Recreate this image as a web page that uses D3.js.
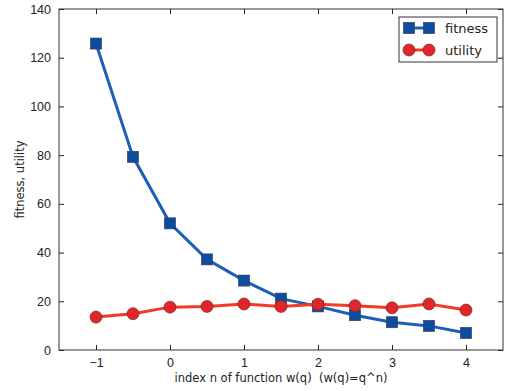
<!DOCTYPE html>
<html>
<head>
<meta charset="utf-8">
<script src="https://cdn.jsdelivr.net/npm/d3@7"></script>
<style>
  body { margin: 0; background: #fff; }
  svg { display: block; font-family: "DejaVu Sans", sans-serif; }
</style>
</head>
<body>
<div id="svg-container"></div>
<script>
// data
const xValues = [-1, -0.5, 0, 0.5, 1, 1.5, 2, 2.5, 3, 3.5, 4];
const fitness = [125.8, 79.3, 52, 37.2, 28.5, 21.1, 17.9, 14.3, 11.4, 9.9, 7.0];
const utility = [13.5, 14.9, 17.6, 17.9, 18.9, 17.9, 18.8, 18.2, 17.3, 18.9, 16.4];
const xTicks = [-1, 0, 1, 2, 3, 4];
const yTicks = [0, 20, 40, 60, 80, 100, 120, 140];

const width = 508;
const height = 391;
const margin = { top: 9, right: 5, bottom: 41, left: 59 };

const svg = d3
  .select("#svg-container")
  .append("svg")
  .attr("width", width)
  .attr("height", height);

const xScale = d3.scaleLinear().domain([-1.5, 4.5]).range([margin.left, width - margin.right]);
const yScale = d3.scaleLinear().domain([0, 140]).range([height - margin.bottom, margin.top]);

const fmt = (d) => (d < 0 ? "\u2212" + Math.abs(d) : d);

// inward ticks on all four sides
const axisStyle = (g) => {
  g.select(".domain").remove();
  g.selectAll("line").attr("stroke", "#222");
  g.selectAll("text").attr("fill", "#222").style("font-size", "12.5px");
};

svg
  .append("g")
  .attr("transform", `translate(0,${height - margin.bottom})`)
  .call(d3.axisBottom(xScale).tickValues(xTicks).tickFormat(fmt).tickSize(-5).tickPadding(8))
  .call(axisStyle);

svg
  .append("g")
  .attr("transform", `translate(0,${margin.top})`)
  .call(d3.axisTop(xScale).tickValues(xTicks).tickFormat("").tickSize(-5))
  .call(axisStyle);

svg
  .append("g")
  .attr("transform", `translate(${margin.left},0)`)
  .call(d3.axisLeft(yScale).tickValues(yTicks).tickSize(-5).tickPadding(8))
  .call(axisStyle);

svg
  .append("g")
  .attr("transform", `translate(${width - margin.right},0)`)
  .call(d3.axisRight(yScale).tickValues(yTicks).tickFormat("").tickSize(-5))
  .call(axisStyle);

svg
  .append("rect")
  .attr("x", margin.left)
  .attr("y", margin.top)
  .attr("width", width - margin.left - margin.right)
  .attr("height", height - margin.top - margin.bottom)
  .attr("fill", "none")
  .attr("stroke", "#333")
  .attr("stroke-width", 1);

// axis labels
svg
  .append("text")
  .attr("x", (margin.left + width - margin.right) / 2)
  .attr("y", 382)
  .attr("text-anchor", "middle")
  .style("font-size", "11.5px")
  .style("white-space", "pre")
  .attr("fill", "#222")
  .text("index n of function w(q)  (w(q)=q^n)");

svg
  .append("text")
  .attr("transform", `translate(24,${(margin.top + height - margin.bottom) / 2}) rotate(-90)`)
  .attr("text-anchor", "middle")
  .style("font-size", "11.5px")
  .attr("fill", "#222")
  .text("fitness, utility");

const line = d3
  .line()
  .x((d, i) => xScale(xValues[i]))
  .y((d) => yScale(d));

const blueLine = "#1c5fb8";
const blueMark = "#0e4c9e";
const redLine = "#f23a26";
const redMark = "#e3242b";

svg
  .append("path")
  .datum(fitness)
  .attr("fill", "none")
  .attr("stroke", blueLine)
  .attr("stroke-width", 3)
  .attr("d", line);

svg
  .append("path")
  .datum(utility)
  .attr("fill", "none")
  .attr("stroke", redLine)
  .attr("stroke-width", 3)
  .attr("d", line);

const sq = 11;
svg
  .selectAll(".sq")
  .data(fitness)
  .enter()
  .append("rect")
  .attr("class", "sq")
  .attr("x", (d, i) => xScale(xValues[i]) - sq / 2)
  .attr("y", (d) => yScale(d) - sq / 2)
  .attr("width", sq)
  .attr("height", sq)
  .attr("fill", blueMark)
  .attr("stroke", "#33405e")
  .attr("stroke-width", 0.7);

svg
  .selectAll(".dot")
  .data(utility)
  .enter()
  .append("circle")
  .attr("class", "dot")
  .attr("cx", (d, i) => xScale(xValues[i]))
  .attr("cy", (d) => yScale(d))
  .attr("r", 6)
  .attr("fill", redMark)
  .attr("stroke", "#6e2a22")
  .attr("stroke-width", 0.7);

// legend
const legend = svg.append("g").attr("transform", "translate(399,17)");
legend
  .append("rect")
  .attr("width", 98)
  .attr("height", 45)
  .attr("fill", "#fff")
  .attr("stroke", "#333")
  .attr("stroke-width", 1);

const items = [
  { label: "fitness", color: blueLine, mark: blueMark, shape: "square" },
  { label: "utility", color: redLine, mark: redMark, shape: "circle" },
];

items.forEach((it, i) => {
  const y = 11 + i * 22;
  const g = legend.append("g").attr("transform", `translate(0,${y})`);
  g.append("line")
    .attr("x1", 10)
    .attr("x2", 30)
    .attr("stroke", it.color)
    .attr("stroke-width", 3);
  [10, 30].forEach((cx) => {
    if (it.shape === "square") {
      g.append("rect")
        .attr("x", cx - sq / 2)
        .attr("y", -sq / 2)
        .attr("width", sq)
        .attr("height", sq)
        .attr("fill", it.mark)
        .attr("stroke", "#33405e")
        .attr("stroke-width", 0.7);
    } else {
      g.append("circle")
        .attr("cx", cx)
        .attr("r", 6)
        .attr("fill", it.mark)
        .attr("stroke", "#6e2a22")
        .attr("stroke-width", 0.7);
    }
  });
  g.append("text")
    .attr("x", 46)
    .attr("y", 5)
    .style("font-size", "13px")
    .attr("fill", "#222")
    .text(it.label);
});
</script>
</body>
</html>
